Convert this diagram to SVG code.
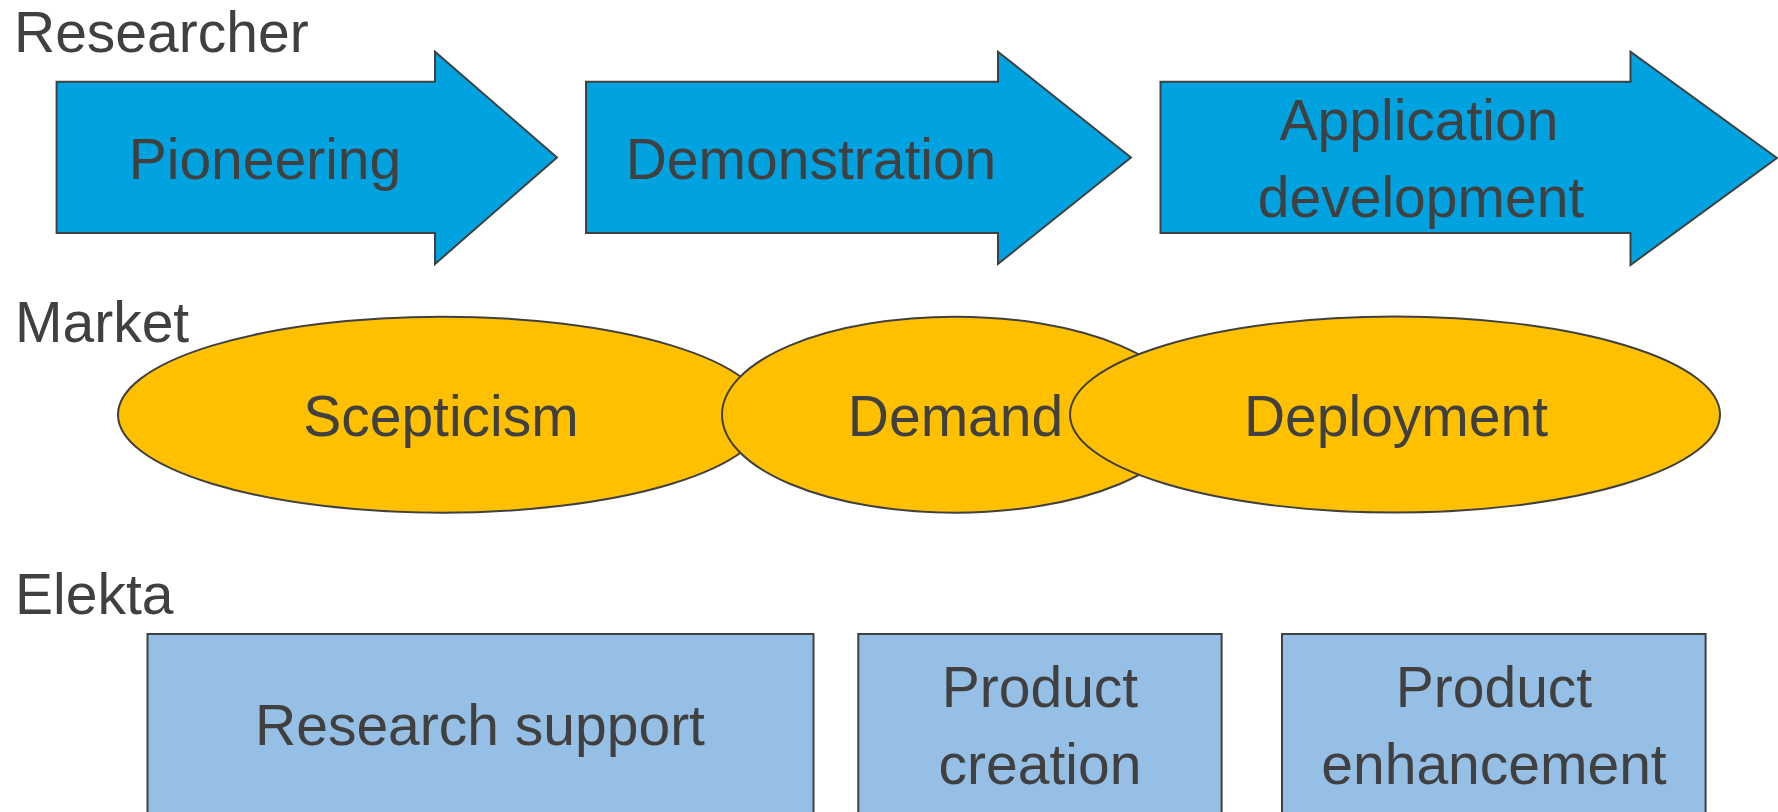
<svg xmlns="http://www.w3.org/2000/svg" width="1778" height="812" viewBox="0 0 1778 812">
<style>
.t{font-family:"Liberation Sans",Arial,sans-serif;font-size:57px;fill:#404040;}
.m{text-anchor:middle;}
.arrow{fill:#00A3E0;stroke:#404040;stroke-width:2;}
.ell{fill:#FFC000;stroke:#404040;stroke-width:2;}
.box{fill:#96BFE6;stroke:#404040;stroke-width:2;}
</style>
<rect width="1778" height="812" fill="#FFFFFF"/>
<g id="lane-labels">
<text class="t" x="14" y="52" font-size="56">Researcher</text>
<text class="t" x="15" y="342">Market</text>
<text class="t" x="15" y="614">Elekta</text>
</g>
<g id="pioneering">
<path class="arrow" d="M56.6,81.7 H435 V51.7 L557,157.5 L435,264 V233 H56.6 Z"/>
<text class="t m" x="265" y="179">Pioneering</text>
</g>
<g id="demonstration">
<path class="arrow" d="M586,81.7 H998 V51.7 L1131,157.5 L998,264 V233 H586 Z"/>
<text class="t m" x="811" y="179">Demonstration</text>
</g>
<g id="application-development">
<path class="arrow" d="M1160.5,81.7 H1630.5 V51.7 L1777,158 L1630.5,265 V233 H1160.5 Z"/>
<text class="t m" x="1419" y="140">Application</text>
<text class="t m" x="1421" y="217">development</text>
</g>
<g id="scepticism">
<ellipse class="ell" cx="442" cy="414.7" rx="324" ry="98"/>
<text class="t m" x="441" y="435.7">Scepticism</text>
</g>
<g id="demand">
<ellipse class="ell" cx="955" cy="414.7" rx="233" ry="98"/>
<text class="t m" x="955.5" y="435.7">Demand</text>
</g>
<g id="deployment">
<ellipse class="ell" cx="1395" cy="414.5" rx="325" ry="98"/>
<text class="t m" x="1396" y="435.7">Deployment</text>
</g>
<g id="research-support">
<rect class="box" x="147.5" y="634" width="666" height="190"/>
<text class="t m" x="480" y="745">Research support</text>
</g>
<g id="product-creation">
<rect class="box" x="858.3" y="634" width="363.3" height="190"/>
<text class="t m" x="1040" y="707">Product</text>
<text class="t m" x="1040" y="784">creation</text>
</g>
<g id="product-enhancement">
<rect class="box" x="1282" y="634" width="423.6" height="190"/>
<text class="t m" x="1494" y="707">Product</text>
<text class="t m" x="1494" y="784">enhancement</text>
</g>
<g id="connectors"></g>
</svg>
